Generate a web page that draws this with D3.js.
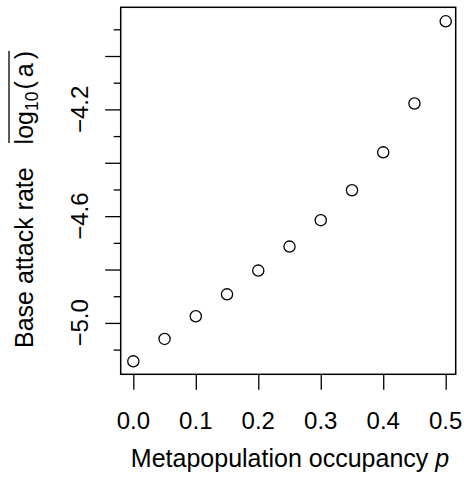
<!DOCTYPE html>
<html>
<head>
<meta charset="utf-8">
<script src="https://cdn.jsdelivr.net/npm/d3@7"></script>
<style>
  body { margin: 0; background: #fff; }
  text { font-family: "Liberation Sans", Arial, sans-serif; fill: #000; }
</style>
</head>
<body>
<div id="chart"></div>
<script>
// values
const occupancy = [0.00, 0.05, 0.10, 0.15, 0.20, 0.25, 0.30, 0.35, 0.40, 0.45, 0.50];
const logAttack = [-5.144, -5.060, -4.975, -4.893, -4.804, -4.714, -4.615, -4.503, -4.361, -4.178, -3.870];
const xTicks = [0.0, 0.1, 0.2, 0.3, 0.4, 0.5];
const yMajor = [-5.0, -4.8, -4.6, -4.4, -4.2, -4.0];
const yMinor = [-5.1, -4.9, -4.7, -4.5, -4.3, -4.1, -3.9];
const yLabels = [-5.0, -4.6, -4.2];

const W = 464, H = 480;
const box = {left: 120.7, right: 455.7, top: 7.3, bottom: 374.3};
const fs = 24, fsTitle = 25;

const svg = d3.select("#chart").append("svg")
    .attr("width", W)
    .attr("height", H);

const x = d3.scaleLinear()
    .domain([-0.0202, 0.516])
    .range([box.left, box.right]);

const y = d3.scaleLinear()
    .domain([-5.1925, -3.8175])
    .range([box.bottom, box.top]);

const fmt = d => d3.format(".1f")(d).replace("-", "\u2212");

// x axis
const xAxis = svg.append("g")
    .attr("transform", `translate(0,${box.bottom})`)
    .call(d3.axisBottom(x).tickValues(xTicks).tickSize(15.5).tickFormat(""));
xAxis.select(".domain").remove();
xAxis.selectAll("line").attr("stroke", "#000").attr("stroke-width", 1.3);

svg.append("g")
    .selectAll("text")
    .data(xTicks)
    .join("text")
    .attr("x", d => x(d))
    .attr("y", 429)
    .attr("text-anchor", "middle")
    .attr("font-size", fs)
    .text(d3.format(".1f"));

// y axis: major and minor ticks
const yAxis = svg.append("g")
    .attr("transform", `translate(${box.left},0)`)
    .call(d3.axisLeft(y).tickValues(yMajor).tickSize(15.5).tickFormat(""));
yAxis.select(".domain").remove();
yAxis.selectAll("line").attr("stroke", "#000").attr("stroke-width", 1.3);

const yMinorAxis = svg.append("g")
    .attr("transform", `translate(${box.left},0)`)
    .call(d3.axisLeft(y).tickValues(yMinor).tickSize(7).tickFormat(""));
yMinorAxis.select(".domain").remove();
yMinorAxis.selectAll("line").attr("stroke", "#000").attr("stroke-width", 1.3);

// rotated y tick labels
svg.append("g")
    .selectAll("text")
    .data(yLabels)
    .join("text")
    .attr("transform", d => `translate(88,${y(d)}) rotate(-90)`)
    .attr("text-anchor", "middle")
    .attr("font-size", fs)
    .text(fmt);

// plot box
svg.append("rect")
    .attr("x", box.left)
    .attr("y", box.top)
    .attr("width", box.right - box.left)
    .attr("height", box.bottom - box.top)
    .attr("fill", "none")
    .attr("stroke", "#000")
    .attr("stroke-width", 1.5);

// points
svg.append("g")
    .selectAll("circle")
    .data(occupancy.map((p, i) => [p, logAttack[i]]))
    .join("circle")
    .attr("cx", d => x(d[0]))
    .attr("cy", d => y(d[1]))
    .attr("r", 5.6)
    .attr("fill", "none")
    .attr("stroke", "#000")
    .attr("stroke-width", 1.3);

// x title
const xt = svg.append("text")
    .attr("x", 290)
    .attr("y", 467)
    .attr("text-anchor", "middle")
    .attr("font-size", fsTitle);
xt.append("tspan").text("Metapopulation occupancy ");
xt.append("tspan").attr("font-style", "italic").text("p");

// y title, in two pieces (rotated frame: x' = -y)
const yg = svg.append("g").attr("transform", "translate(33,0) rotate(-90)");
yg.append("text")
    .attr("x", -348)
    .attr("text-anchor", "start")
    .attr("font-size", fsTitle)
    .text("Base attack rate");

const lg = yg.append("text")
    .attr("x", -51)
    .attr("text-anchor", "end")
    .attr("font-size", fsTitle);
lg.append("tspan").text("log");
lg.append("tspan").attr("font-size", fsTitle * 0.7).attr("dy", 5).text("10");
lg.append("tspan").attr("dy", -5).attr("dx", 2).text("(");
lg.append("tspan").attr("dx", 4).text("a");
lg.append("tspan").attr("dx", 4).text(")");

// overline above log10(a)
const bb = lg.node().getBBox();
yg.append("line")
    .attr("x1", bb.x + 1.5)
    .attr("x2", bb.x + bb.width)
    .attr("y1", -24)
    .attr("y2", -24)
    .attr("stroke", "#000")
    .attr("stroke-width", 1.3);
</script>
</body>
</html>
